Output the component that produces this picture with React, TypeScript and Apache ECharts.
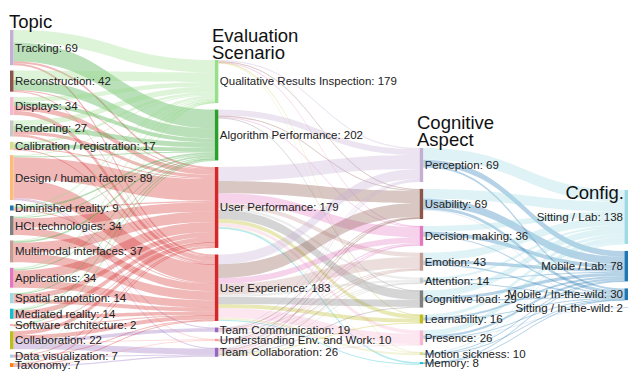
import React, { useEffect, useRef } from "react";
import * as echarts from "echarts";

// ---- Column categories and their displayed counts ----
const topics = [
  "Tracking", "Reconstruction", "Displays", "Rendering", "Calibration / registration",
  "Design / human factors", "Diminished reality", "HCI technologies", "Multimodal interfaces",
  "Applications", "Spatial annotation", "Mediated reality", "Software architecture",
  "Collaboration", "Data visualization", "Taxonomy",
];
const topicCounts = [69, 42, 34, 27, 17, 89, 9, 34, 37, 34, 14, 14, 2, 22, 7, 7];

const scenarios = [
  "Qualitative Results Inspection", "Algorithm Performance", "User Performance",
  "User Experience", "Team Communication", "Understanding Env. and Work", "Team Collaboration",
];
const scenarioCounts = [179, 202, 179, 183, 19, 10, 26];

const aspects = [
  "Perception", "Usability", "Decision making", "Emotion", "Attention",
  "Cognitive load", "Learnability", "Presence", "Motion sickness", "Memory",
];
const aspectCounts = [69, 69, 36, 43, 14, 29, 16, 26, 10, 8];

const configs = ["Sitting / Lab", "Mobile / Lab", "Mobile / In-the-wild", "Sitting / In-the-wild"];
const configCounts = [138, 78, 30, 2];

// ---- Flows (rows = source, cols = target) ----
const topicScenarioFlows = [
  [32, 48, 5, 5, 0, 0, 0],
  [24, 26, 2, 2, 0, 0, 0],
  [12, 10, 13, 11, 0, 0, 0],
  [14, 13, 8, 6, 0, 0, 0],
  [6, 10, 3, 1, 0, 0, 0],
  [3, 3, 56, 48, 2, 1, 2],
  [4, 4, 3, 2, 0, 0, 0],
  [3, 3, 24, 19, 0, 0, 0],
  [2, 4, 27, 23, 0, 0, 0],
  [4, 3, 25, 19, 0, 0, 0],
  [1, 2, 13, 10, 0, 0, 0],
  [2, 3, 12, 9, 0, 0, 0],
  [1, 1, 1, 1, 0, 0, 0],
  [0, 0, 10, 10, 9, 2, 15],
  [1, 0, 2, 2, 0, 0, 3],
  [1, 0, 3, 2, 0, 1, 3],
];
const scenarioAspectFlows = [
  [3, 2, 1, 0, 0, 0, 1, 0, 1, 0],
  [15, 3, 2, 0, 0, 1, 0, 0, 0, 0],
  [36, 31, 26, 11, 6, 23, 10, 9, 2, 4],
  [25, 35, 15, 28, 6, 18, 10, 25, 5, 1],
  [2, 2, 3, 2, 1, 0, 0, 2, 0, 0],
  [2, 1, 1, 1, 1, 0, 0, 0, 0, 0],
  [4, 3, 3, 4, 1, 2, 2, 2, 0, 0],
];
const aspectConfigFlows = [
  [30, 15, 5, 0],
  [25, 20, 8, 1],
  [15, 10, 3, 0],
  [20, 8, 4, 0],
  [6, 3, 1, 0],
  [17, 8, 3, 0],
  [8, 5, 2, 0],
  [13, 6, 2, 1],
  [3, 2, 1, 0],
  [1, 1, 1, 0],
];

// ---- Styles / layout parameters ----
const topicColors = [
  "#c5b0d5", "#8c564b", "#f7b6d2", "#c7c7c7", "#dbdb8d", "#ffbb78", "#1f77b4", "#7f7f7f",
  "#c49c94", "#e377c2", "#9edae5", "#17becf", "#ff9896", "#bcbd22", "#aec7e8", "#ff7f0e",
];
const scenarioColors = ["#98df8a", "#2ca02c", "#d62728", "#d62728", "#9467bd", "#ff9896", "#9467bd"];
const aspectColors = [
  "#c5b0d5", "#8c564b", "#e377c2", "#c49c94", "#c7c7c7", "#7f7f7f", "#bcbd22", "#f7b6d2",
  "#dbdb8d", "#17becf",
];
const configColors = ["#9edae5", "#1f77b4", "#1f77b4", "#aec7e8"];

const FONT = "'Liberation Sans', Arial, sans-serif";
const SERIES_LEFT = 10;
const SERIES_TOP = 30;
const SERIES_RIGHT = 4;
const SERIES_BOTTOM = 19;
const CHART_H = 386;
const NODE_GAP = 5.4;
// per column: offset of the first node from the series top, and the gap between nodes
const columnOffsets = [0, 30, 118, 160];
const columnGaps = [5.4, 6.6, 6.9, 7];

function buildOption() {
  const H = CHART_H - SERIES_TOP - SERIES_BOTTOM;
  const columns = [
    { names: topics, counts: topicCounts, colors: topicColors },
    { names: scenarios, counts: scenarioCounts, colors: scenarioColors },
    { names: aspects, counts: aspectCounts, colors: aspectColors },
    { names: configs, counts: configCounts, colors: configColors },
  ];
  const flows = [topicScenarioFlows, scenarioAspectFlows, aspectConfigFlows];

  // node values as the library computes them: max(in, out)
  const values = columns.map((col, c) =>
    col.names.map((_, i) => {
      const out = c < flows.length ? flows[c][i].reduce((a, b) => a + b, 0) : 0;
      const inn = c > 0 ? flows[c - 1].reduce((a, row) => a + row[i], 0) : 0;
      return Math.max(out, inn);
    })
  );
  const ky = Math.min(
    ...values.map((v) => (H - (v.length - 1) * NODE_GAP) / v.reduce((a, b) => a + b, 0))
  );

  const countOf: Record<string, number> = {};
  const nodes: any[] = [];
  columns.forEach((col, c) => {
    let y = columnOffsets[c];
    col.names.forEach((n, i) => {
      countOf[n] = col.counts[i];
      nodes.push({
        name: n,
        depth: c,
        localY: y / H,
        itemStyle: { color: col.colors[i] },
        label: c === columns.length - 1 ? { position: "left" } : undefined,
      });
      y += values[c][i] * ky + columnGaps[c];
    });
  });

  const links: any[] = [];
  flows.forEach((m, c) => {
    m.forEach((row, i) =>
      row.forEach((v, j) => {
        if (v > 0) links.push({ source: columns[c].names[i], target: columns[c + 1].names[j], value: v });
      })
    );
  });

  const title = (text: string, x: number, y: number, align = "left") => ({
    type: "text",
    x,
    y,
    z: 100,
    style: {
      text,
      fill: "#111",
      font: `18.5px ${FONT}`,
      lineHeight: 17,
      textAlign: align,
      textVerticalAlign: "top",
    },
  });

  return {
    animation: false,
    backgroundColor: "#ffffff",
    series: [
      {
        type: "sankey",
        left: SERIES_LEFT,
        top: SERIES_TOP,
        right: SERIES_RIGHT,
        bottom: SERIES_BOTTOM,
        nodeWidth: 3.5,
        nodeGap: NODE_GAP,
        layoutIterations: 0,
        draggable: false,
        emphasis: { disabled: true },
        data: nodes,
        links,
        lineStyle: { color: "target", opacity: 0.33, curveness: 0.5 },
        itemStyle: { borderWidth: 0 },
        label: {
          show: true,
          position: "right",
          distance: 1.5,
          fontSize: 11.5,
          fontFamily: FONT,
          color: "#222",
          formatter: (p: any) => `${p.name}: ${countOf[p.name]}`,
        },
      },
    ],
    graphic: [
      title("Topic", 9, 13),
      title("Evaluation\nScenario", 212, 27),
      title("Cognitive\nAspect", 417, 114),
      title("Config.", 624, 184, "right"),
    ],
  };
}

export default function App() {
  const ref = useRef<HTMLDivElement>(null);
  useEffect(() => {
    if (!ref.current) return;
    const chart = echarts.init(ref.current, undefined, { renderer: "svg" });
    chart.setOption(buildOption() as any);
    return () => chart.dispose();
  }, []);
  return <div ref={ref} style={{ width: 632, height: 386, position: "absolute", left: 0, top: 0 }} />;
}
